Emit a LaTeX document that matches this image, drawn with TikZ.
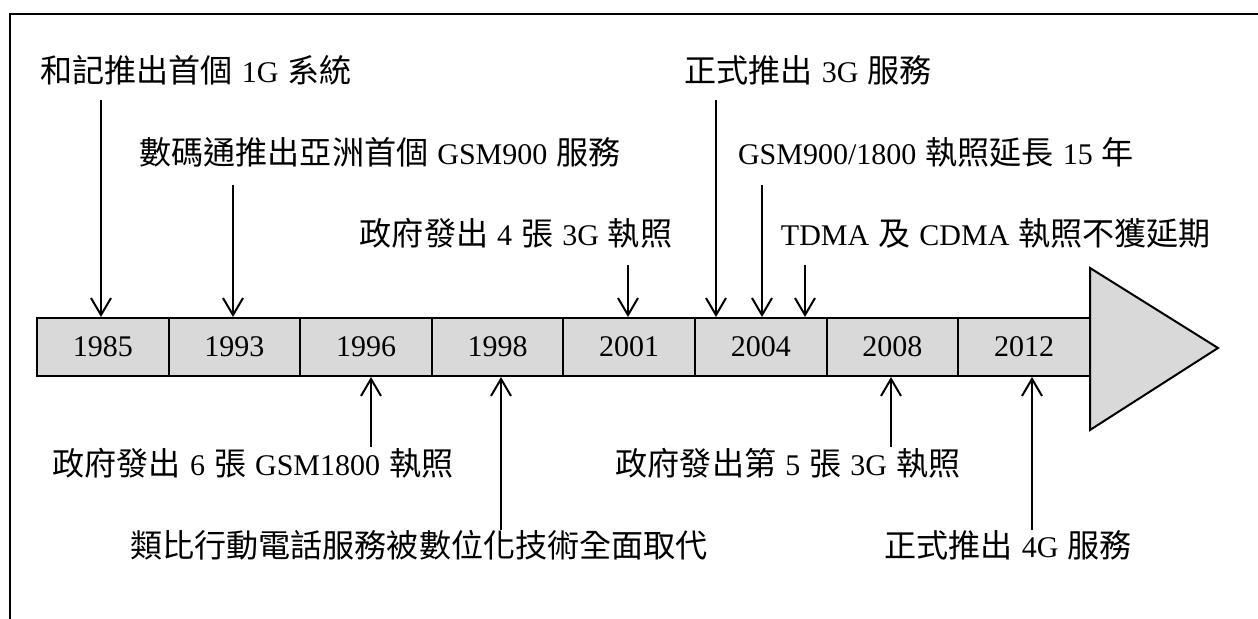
\documentclass[tikz,border=0pt]{standalone}
\usepackage{fontspec}
\setmainfont{Liberation Serif}
\newfontfamily\cjkf[Scale=1.07]{Noto Sans CJK TC}
\usetikzlibrary{arrows.meta}
\newcommand{\zh}[1]{{\cjkf #1}}
\newcommand{\gap}{\hspace{0.3em}}
\definecolor{boxgray}{HTML}{D9D9D9}
\begin{document}
\begin{tikzpicture}[x=0.5pt,y=-0.5pt,
  every node/.style={font=\fontsize{15}{18}\selectfont, inner sep=0pt},
  yearbox/.style={draw, fill=boxgray, line width=1pt, minimum width=65.8pt, minimum height=29pt},
  evt/.style={anchor=center},
  arr/.style={line width=1pt, -{Straight Barb[length=8.5pt,width=10pt,line width=1pt]}},
  frame/.style={line width=1pt}]
\useasboundingbox (0,0) rectangle (1258,619);
% frame
\draw[frame] (10,619) -- (10,14) -- (1258,14);
% arrow head
\draw[line width=1pt, fill=boxgray] (1090,268) -- (1218,348) -- (1090,430) -- cycle;
% year boxes
\node[yearbox] (b1) at (102.8,347) {1985};
\node[yearbox] (b2) at (234.4,347) {1993};
\node[yearbox] (b3) at (366,347) {1996};
\node[yearbox] (b4) at (497.6,347) {1998};
\node[yearbox] (b5) at (629.2,347) {2001};
\node[yearbox] (b6) at (760.8,347) {2004};
\node[yearbox] (b7) at (892.4,347) {2008};
\node[yearbox] (b8) at (1024,347) {2012};
% top labels
\node[evt] (t1) at (196,70) {\zh{和記推出首個}\gap 1G\gap\zh{系統}};
\node[evt] (t2) at (380,152) {\zh{數碼通推出亞洲首個}\gap GSM900\gap\zh{服務}};
\node[evt] (t3) at (516,233) {\zh{政府發出}\gap 4\gap\zh{張}\gap 3G\gap\zh{執照}};
\node[evt] (t4) at (808,70) {\zh{正式推出}\gap 3G\gap\zh{服務}};
\node[evt] (t5) at (936,152) {GSM900/1800\gap\zh{執照延長}\gap 15\gap\zh{年}};
\node[evt] (t6) at (996,233) {TDMA\gap\zh{及}\gap CDMA\gap\zh{執照不獲延期}};
% bottom labels
\node[evt] (t7) at (253,463) {\zh{政府發出}\gap 6\gap\zh{張}\gap GSM1800\gap\zh{執照}};
\node[evt] (t8) at (419,545) {\zh{類比行動電話服務被數位化技術全面取代}};
\node[evt] (t9) at (788,463) {\zh{政府發出第}\gap 5\gap\zh{張}\gap 3G\gap\zh{執照}};
\node[evt] (t10) at (1008,545) {\zh{正式推出}\gap 4G\gap\zh{服務}};
% arrow start coordinates
\coordinate (s1) at (101,100);
\coordinate (s2) at (233,185);
\coordinate (s3) at (628,265);
\coordinate (s4) at (716,100);
\coordinate (s5) at (762,185);
\coordinate (s6) at (805,265);
\coordinate (s7) at (371,447);
\coordinate (s8) at (501,530);
\coordinate (s9) at (891,447);
\coordinate (s10) at (1032,530);
% arrows
\draw[arr] (s1) -- (s1 |- b1.north);
\draw[arr] (s2) -- (s2 |- b2.north);
\draw[arr] (s3) -- (s3 |- b5.north);
\draw[arr] (s4) -- (s4 |- b6.north);
\draw[arr] (s5) -- (s5 |- b6.north);
\draw[arr] (s6) -- (s6 |- b6.north);
\draw[arr] (s7) -- (s7 |- b3.south);
\draw[arr] (s8) -- (s8 |- b4.south);
\draw[arr] (s9) -- (s9 |- b7.south);
\draw[arr] (s10) -- (s10 |- b8.south);
\end{tikzpicture}
\end{document}
